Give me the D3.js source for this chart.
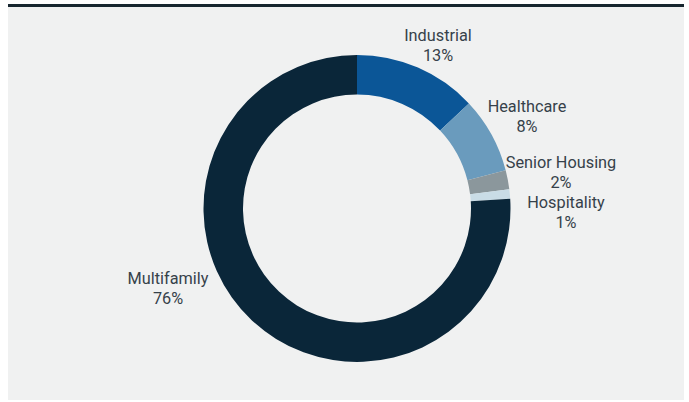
<!DOCTYPE html>
<html>
<head>
<meta charset="utf-8">
<script src="https://cdn.jsdelivr.net/npm/d3@7"></script>
<style>
  html, body { margin: 0; padding: 0; background: #ffffff; }
  svg { display: block; }
  text { font-family: Roboto, "Noto Sans", sans-serif; }
</style>
</head>
<body>
<svg id="chart" width="689" height="402"></svg>
<script>
// Portfolio allocation by property type (percent of total)
const categories = ["Industrial", "Healthcare", "Senior Housing", "Hospitality", "Multifamily"];
const shares = [13, 8, 2, 1, 76];
const sliceColors = ["#0b5697", "#6a9bbd", "#8b979c", "#c9dce6", "#0a2639"];

// Label anchors, given as offsets from the donut centre (first-line baseline)
const labelOffsets = [[81, -167.5], [170, -96.5], [204, -40.5], [209, -0.5], [-189, 75.5]];

const W = 689, H = 402;
const cx = 357, cy = 208.5;
const outerR = 153.5, innerR = 114;

const svg = d3.select("#chart");

// Card background and top rule
svg.append("rect")
  .attr("x", 8).attr("y", 6)
  .attr("width", 676).attr("height", 394)
  .attr("fill", "#f0f1f1");
svg.append("rect")
  .attr("x", 8).attr("y", 4)
  .attr("width", 676).attr("height", 3)
  .attr("fill", "#17262f");

const data = categories.map((c, i) => ({ name: c, value: shares[i], color: sliceColors[i], off: labelOffsets[i] }));

const pie = d3.pie()
  .value(d => d.value)
  .sort(null)
  .startAngle(0)
  .endAngle(2 * Math.PI);

const arc = d3.arc().innerRadius(innerR).outerRadius(outerR);

const g = svg.append("g").attr("transform", `translate(${cx},${cy})`);

g.selectAll("path.slice")
  .data(pie(data))
  .join("path")
  .attr("class", "slice")
  .attr("d", arc)
  .attr("fill", d => d.data.color);

// Category name and share under it
const labels = g.selectAll("text.lbl")
  .data(data)
  .join("text")
  .attr("class", "lbl")
  .attr("text-anchor", "middle")
  .attr("font-size", 16.3)
  .attr("fill", "#36414a");

labels.append("tspan")
  .attr("x", d => d.off[0])
  .attr("y", d => d.off[1])
  .text(d => d.name);

labels.append("tspan")
  .attr("x", d => d.off[0])
  .attr("y", d => d.off[1] + 20)
  .text(d => d.value + "%");
</script>
</body>
</html>
